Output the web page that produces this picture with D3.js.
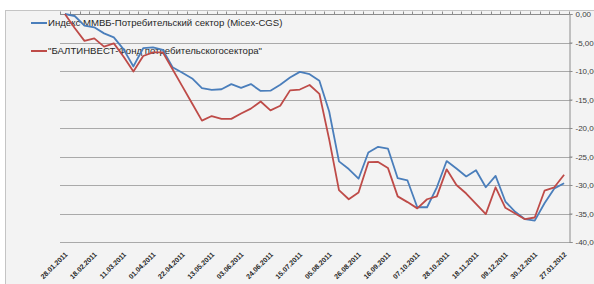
<!DOCTYPE html>
<html><head><meta charset="utf-8">
<script src="https://cdn.jsdelivr.net/npm/d3@7"></script>
<style>
html,body{margin:0;padding:0;background:#fff;}
svg{display:block;}
</style></head>
<body>
<svg id="chart" width="594" height="284"></svg>
<script>
const categories = ["28.01.2011","04.02.2011","11.02.2011","18.02.2011","25.02.2011","04.03.2011","11.03.2011","18.03.2011","25.03.2011","01.04.2011","08.04.2011","15.04.2011","22.04.2011","29.04.2011","06.05.2011","13.05.2011","20.05.2011","27.05.2011","03.06.2011","10.06.2011","17.06.2011","24.06.2011","01.07.2011","08.07.2011","15.07.2011","22.07.2011","29.07.2011","05.08.2011","12.08.2011","19.08.2011","26.08.2011","02.09.2011","09.09.2011","16.09.2011","23.09.2011","30.09.2011","07.10.2011","14.10.2011","21.10.2011","28.10.2011","04.11.2011","11.11.2011","18.11.2011","25.11.2011","02.12.2011","09.12.2011","16.12.2011","23.12.2011","30.12.2011","13.01.2012","20.01.2012","27.01.2012"];
const tickLabelEvery = 3;
const seriesNames = ["Индекс ММВБ-Потребительский сектор (Micex-CGS)", "\"БАЛТИНВЕСТ-Фонд потребительскогосектора\""];
const micexValues = [0,-0.35,-2.05,-2.34,-3.4,-4.1,-6.2,-9.2,-6.0,-5.85,-6.3,-9.35,-10.3,-11.3,-13.0,-13.3,-13.2,-12.3,-12.95,-12.3,-13.5,-13.45,-12.4,-11.15,-10.15,-10.55,-11.7,-17.1,-25.85,-27.2,-28.9,-24.3,-23.3,-23.6,-28.8,-29.2,-33.9,-33.9,-30.4,-25.8,-27.1,-28.5,-27.4,-30.4,-28.4,-32.9,-34.7,-36.0,-36.25,-33.2,-30.6,-29.7];
const baltinvestValues = [0,-2.45,-4.72,-4.27,-5.73,-5.15,-7.5,-10.1,-7.37,-6.73,-6.73,-9.7,-12.7,-15.7,-18.7,-17.9,-18.4,-18.4,-17.45,-16.6,-15.35,-16.9,-16.1,-13.4,-13.25,-12.45,-14.0,-22.0,-30.9,-32.5,-31.3,-26.0,-25.95,-27.0,-32.0,-33.0,-34.1,-32.5,-32.0,-27.25,-30.0,-31.5,-33.3,-35.1,-30.4,-34.0,-35.0,-36.0,-35.7,-31.0,-30.4,-28.2];
const yTicks = [0,-5,-10,-15,-20,-25,-30,-35,-40];
const yTickLabels = ["0,00","-5,00","-10,00","-15,00","-20,00","-25,00","-30,00","-35,00","-40,00"];
const seriesColors = ["#4a7ebb", "#be4b48"];

const svg = d3.select("#chart");
const L = 60, R = 569, T = 14, B = 242;

svg.append("rect").attr("x",5.5).attr("y",10.5).attr("width",600).attr("height",300)
  .attr("fill","#f3f3f3").attr("stroke","#c4c4c4").attr("stroke-width",1);

const x = d3.scaleBand().domain(categories).range([L, R]).padding(0);
const y = d3.scaleLinear().domain([-40, 0]).range([B, T]);
const cx = d => x(d) + x.bandwidth()/2;

svg.append("g").selectAll("line").data(yTicks).join("line")
  .attr("x1", L).attr("x2", R + 3)
  .attr("y1", d => Math.round(y(d)) + 0.5).attr("y2", d => Math.round(y(d)) + 0.5)
  .attr("stroke", "#a9a9a9").attr("stroke-width", 1);

const yAxis = d3.axisRight(y).tickValues(yTicks).tickSize(3).tickPadding(3)
  .tickFormat((d,i) => yTickLabels[i]);
const gy = svg.append("g").attr("transform", `translate(${R+0.5},0)`).call(yAxis);
gy.select(".domain").attr("stroke","#8c8c8c");
gy.selectAll(".tick line").attr("stroke","#8c8c8c");
gy.selectAll(".tick text").attr("fill","#404040").attr("font-family","Liberation Sans, Arial, sans-serif").attr("font-size","8px");

svg.append("line").attr("x1",L).attr("x2",R).attr("y1",T+0.5).attr("y2",T+0.5).attr("stroke","#8c8c8c");
svg.append("g").selectAll("line").data(d3.range(categories.length + 1)).join("line")
  .attr("x1", i => Math.round(L + i * x.step()) + 0.5)
  .attr("x2", i => Math.round(L + i * x.step()) + 0.5)
  .attr("y1", T - 2.5).attr("y2", T + 0.5)
  .attr("stroke", "#8c8c8c");

svg.append("g").selectAll("text")
  .data(categories.filter((d,i) => i % tickLabelEvery === 0))
  .join("text")
  .attr("transform", d => `translate(${cx(d)+3},${B+13}) rotate(-45)`)
  .attr("text-anchor","end")
  .attr("font-family","Liberation Sans, Arial, sans-serif")
  .attr("font-size","7px").attr("font-weight","bold").attr("fill","#262626")
  .text(d => d);

const legendY = [23, 51];
const lg = svg.append("g");
seriesNames.forEach((name, i) => {
  lg.append("line").attr("x1",31).attr("x2",47).attr("y1",legendY[i]).attr("y2",legendY[i])
    .attr("stroke",seriesColors[i]).attr("stroke-width",2);
  lg.append("text").attr("x",48).attr("y",legendY[i]).attr("dy","0.35em")
    .attr("font-family","Liberation Sans, Arial, sans-serif").attr("font-size","9.6px")
    .attr("fill","#262626").text(name);
});

const line = d3.line().x((d,i) => cx(categories[i])).y(d => y(d));
[micexValues, baltinvestValues].forEach((vals, i) => {
  svg.append("path").datum(vals).attr("d", line)
    .attr("fill","none").attr("stroke",seriesColors[i]).attr("stroke-width",1.8)
    .attr("stroke-linejoin","round");
});
</script>
</body></html>
